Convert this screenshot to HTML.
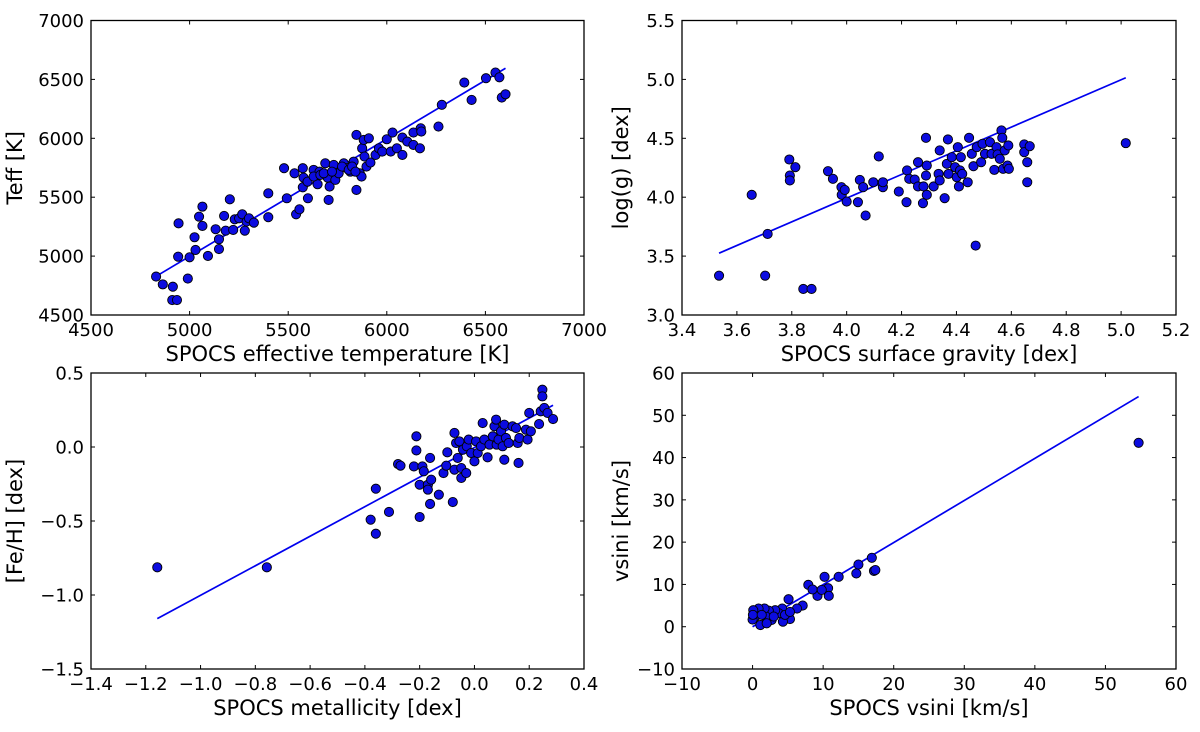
<!DOCTYPE html>
<html><head><meta charset="utf-8">
<style>
html,body{margin:0;padding:0;background:#fff;}
svg{display:block;font-family:"DejaVu Sans","Liberation Sans",sans-serif;}
</style></head>
<body>
<svg id="fig" width="1200" height="732" viewBox="0 0 1200 732" xmlns="http://www.w3.org/2000/svg"></svg>
<script>
// ---- Panel 1: effective temperature ----
const teffSpocs = [4830,4864,4915,4912,4936,4944,4942,4991,5000,5025,5030,5048,5065,5065,5093,5132,5149,5149,5175,5183,5204,5221,5229,5251,5267,5280,5289,5301,5326,5399,5399,5479,5493,5532,5540,5557,5574,5578,5574,5600,5598,5629,5649,5659,5688,5700,5710,5705,5739,5731,5756,5782,5798,5815,5832,5846,5846,5863,5872,5875,5883,5909,5887,5897,5917,5943,5960,5977,6000,6020,6029,6051,6079,6079,6104,6135,6135,6168,6172,6175,6262,6279,6393,6430,6503,6551,6571,6583,6602,5629,5663,5680,5722,5773,5807,5824,5841];
const teffMeas = [4826,4760,4740,4627,4627,5278,4995,4809,4990,5160,5052,5335,5420,5256,5001,5228,5143,5060,5341,5216,5482,5222,5312,5321,5355,5216,5293,5321,5284,5330,5533,5746,5491,5703,5355,5397,5746,5666,5584,5491,5632,5732,5610,5717,5788,5666,5590,5477,5647,5774,5703,5788,5746,5717,5802,6029,5562,5703,5675,5915,5986,6000,5845,5760,5794,5859,5915,5887,5992,5887,6049,5915,5859,6006,5972,6049,5944,5915,6085,6057,6100,6284,6473,6326,6510,6558,6518,6346,6374,5675,5689,5703,5717,5760,5732,5760,5717];
const teffFit = [0.9966, 15];
const teffXTicks = [4500,5000,5500,6000,6500,7000];
const teffYTicks = [4500,5000,5500,6000,6500,7000];

// ---- Panel 2: surface gravity ----
const loggSpocs = [3.535,3.654,3.703,3.712,3.791,3.793,3.793,3.813,3.842,3.872,3.932,3.950,3.981,3.982,3.993,4.000,4.041,4.048,4.060,4.069,4.097,4.117,4.132,4.132,4.190,4.218,4.220,4.228,4.248,4.260,4.260,4.278,4.280,4.289,4.289,4.292,4.292,4.317,4.335,4.339,4.339,4.357,4.369,4.365,4.371,4.383,4.395,4.401,4.405,4.409,4.413,4.416,4.421,4.441,4.446,4.456,4.462,4.470,4.474,4.490,4.495,4.504,4.522,4.528,4.538,4.546,4.550,4.558,4.564,4.567,4.570,4.576,4.586,4.589,4.591,4.647,4.647,4.658,4.658,4.667,5.017];
const loggMeas = [3.334,4.020,3.334,3.688,4.320,4.184,4.142,4.255,3.221,3.221,4.221,4.156,4.085,4.020,4.062,3.963,3.958,4.147,4.085,3.844,4.127,4.346,4.085,4.127,4.048,3.958,4.227,4.156,4.150,4.297,4.091,3.949,4.091,4.504,4.184,4.020,4.269,4.091,4.198,4.397,4.142,3.992,4.490,4.283,4.198,4.340,4.255,4.170,4.425,4.091,4.227,4.340,4.198,4.127,4.504,4.368,4.263,3.589,4.425,4.297,4.453,4.368,4.467,4.368,4.232,4.425,4.363,4.326,4.567,4.504,4.241,4.397,4.269,4.439,4.241,4.448,4.382,4.297,4.127,4.433,4.459];
const loggFit = [1.005, -0.028];
const loggXTicks = [3.4,3.6,3.8,4.0,4.2,4.4,4.6,4.8,5.0,5.2];
const loggYTicks = [3.0,3.5,4.0,4.5,5.0,5.5];

// ---- Panel 3: metallicity ----
const fehSpocs = [-1.158,-0.758,-0.379,-0.360,-0.360,-0.312,-0.279,-0.270,-0.221,-0.212,-0.212,-0.200,-0.200,-0.190,-0.185,-0.170,-0.170,-0.162,-0.162,-0.158,-0.130,-0.113,-0.103,-0.099,-0.079,-0.073,-0.073,-0.067,-0.061,-0.055,-0.048,-0.048,-0.042,-0.030,-0.028,-0.021,-0.012,0.000,0.006,0.012,0.024,0.030,0.036,0.048,0.055,0.067,0.073,0.079,0.081,0.088,0.097,0.103,0.109,0.109,0.115,0.125,0.139,0.152,0.158,0.161,0.164,0.188,0.194,0.200,0.206,0.236,0.242,0.248,0.248,0.255,0.267,0.287];
const fehMeas = [-0.813,-0.813,-0.491,-0.586,-0.282,-0.439,-0.115,-0.126,-0.131,0.072,-0.023,-0.473,-0.255,-0.131,-0.164,-0.255,-0.288,-0.074,-0.385,-0.221,-0.322,-0.176,-0.126,-0.036,-0.372,0.095,-0.153,0.027,-0.074,0.038,-0.142,-0.209,-0.018,-0.176,0.005,0.050,-0.041,-0.097,0.038,-0.041,0.005,0.162,0.050,-0.070,0.016,0.072,0.140,0.185,0.016,0.050,0.106,0.005,-0.086,0.151,0.061,0.027,0.140,0.128,0.027,-0.108,0.061,0.117,0.050,0.230,0.106,0.155,0.241,0.387,0.342,0.264,0.230,0.189];
const fehFit = [0.998, -0.004];
const fehXTicks = [-1.4,-1.2,-1.0,-0.8,-0.6,-0.4,-0.2,0.0,0.2,0.4];
const fehYTicks = [-1.5,-1.0,-0.5,0.0,0.5];

// ---- Panel 4: vsini ----
const vsiniSpocs = [54.7,16.9,17.2,17.4,15.0,14.7,12.2,10.2,10.7,10.8,9.2,7.9,8.5,9.8,7.1,6.3,5.1,5.3,4.2,4.3,3.7,3.2,2.7,2.3,1.9,1.7,1.1,0.85,0.4,0.1,0.0,0.05,1.3,2.0,3.0,4.6,5.3];
const vsiniMeas = [43.5,16.3,13.2,13.4,14.7,12.6,11.8,11.8,9.1,7.3,7.3,9.9,8.8,8.7,5.0,4.3,6.5,1.8,4.3,1.2,3.2,3.9,1.6,3.8,2.4,4.3,0.4,4.3,2.4,3.9,1.7,2.8,2.8,0.8,2.4,2.8,3.5];
const vsiniFit = [0.995, 0];
const vsiniXTicks = [-10,0,10,20,30,40,50,60];
const vsiniYTicks = [-10,0,10,20,30,40,50,60];

const NS = 'http://www.w3.org/2000/svg';
const fig = document.getElementById('fig');
function mk(tag, attrs, parent){
  const e = document.createElementNS(NS, tag);
  for (const k in attrs) e.setAttribute(k, attrs[k]);
  (parent||fig).appendChild(e);
  return e;
}
function fmt(v, dec){ const s = v.toFixed(dec); return s.replace('-', '\u2212'); }

function panel(o){
  const g = mk('g', {});
  
  
  const xs = v => o.L + (v - o.xr[0]) / (o.xr[1]-o.xr[0]) * (o.R - o.L);
  const ys = v => o.B - (v - o.yr[0]) / (o.yr[1]-o.yr[0]) * (o.B - o.T);
  const xmin = Math.min(...o.x), xmax = Math.max(...o.x);
  const fl = mk('line', {x1:xs(xmin), y1:ys(o.fit[0]*xmin+o.fit[1]), x2:xs(xmax), y2:ys(o.fit[0]*xmax+o.fit[1]), stroke:'#0000ee', 'stroke-width':1.7}, g);
  
  
  for (let i=0;i<o.x.length;i++){
    const c = mk('circle', {cx:xs(o.x[i]), cy:ys(o.y[i]), r:4.6, fill:'#0c0ce0', stroke:'#000', 'stroke-width':0.9}, g);
    
    
  }
  const fr = mk('rect', {x:o.L, y:o.T, width:o.R-o.L, height:o.B-o.T, fill:'none', stroke:'#000', 'stroke-width':1.3}, g);
  
  
  o.xt.forEach(v=>{
    const X = xs(v);
    mk('line', {x1:X, y1:o.B, x2:X, y2:o.B-4, stroke:'#000', 'stroke-width':1}, g);
    mk('line', {x1:X, y1:o.T, x2:X, y2:o.T+4, stroke:'#000', 'stroke-width':1}, g);
    const t = mk('text', {x:X, y:o.B+21, 'text-anchor':'middle', 'font-size':18, fill:'#000'}, g);
    t.textContent = fmt(v, o.xd);
    
    
  });
  o.yt.forEach(v=>{
    const Y = ys(v);
    mk('line', {x1:o.L, y1:Y, x2:o.L+4, y2:Y, stroke:'#000', 'stroke-width':1}, g);
    mk('line', {x1:o.R, y1:Y, x2:o.R-4, y2:Y, stroke:'#000', 'stroke-width':1}, g);
    const t = mk('text', {x:o.L-7, y:Y+6.5, 'text-anchor':'end', 'font-size':18, fill:'#000'}, g);
    t.textContent = fmt(v, o.yd);
    
    
  });
  const xl = mk('text', {x:(o.L+o.R)/2, y:o.B+46, 'text-anchor':'middle', 'font-size':21, fill:'#000'}, g);
  xl.textContent = o.xlab;
  
  
  const cy = (o.T+o.B)/2;
  const yl = mk('text', {x:o.ylx, y:cy, 'text-anchor':'middle', 'font-size':21, fill:'#000', transform:`rotate(-90 ${o.ylx} ${cy})`}, g);
  yl.textContent = o.ylab;
  
  
}

panel({name:'teff-panel', L:91, R:584, T:20.5, B:315, xr:[4500,7000], yr:[4500,7000], x:teffSpocs, y:teffMeas, fit:teffFit, xt:teffXTicks, yt:teffYTicks, xd:0, yd:0, xlab:'SPOCS effective temperature [K]', ylab:'Teff [K]', ylx:22});
panel({name:'logg-panel', L:682, R:1176, T:20.5, B:315, xr:[3.4,5.2], yr:[3.0,5.5], x:loggSpocs, y:loggMeas, fit:loggFit, xt:loggXTicks, yt:loggYTicks, xd:1, yd:1, xlab:'SPOCS surface gravity [dex]', ylab:'log(g) [dex]', ylx:628});
panel({name:'feh-panel', L:91, R:584, T:373, B:669, xr:[-1.4,0.4], yr:[-1.5,0.5], x:fehSpocs, y:fehMeas, fit:fehFit, xt:fehXTicks, yt:fehYTicks, xd:1, yd:1, xlab:'SPOCS metallicity [dex]', ylab:'[Fe/H] [dex]', ylx:22});
panel({name:'vsini-panel', L:682, R:1176, T:373, B:669, xr:[-10,60], yr:[-10,60], x:vsiniSpocs, y:vsiniMeas, fit:vsiniFit, xt:vsiniXTicks, yt:vsiniYTicks, xd:0, yd:0, xlab:'SPOCS vsini [km/s]', ylab:'vsini [km/s]', ylx:628});
</script>
</body></html>
